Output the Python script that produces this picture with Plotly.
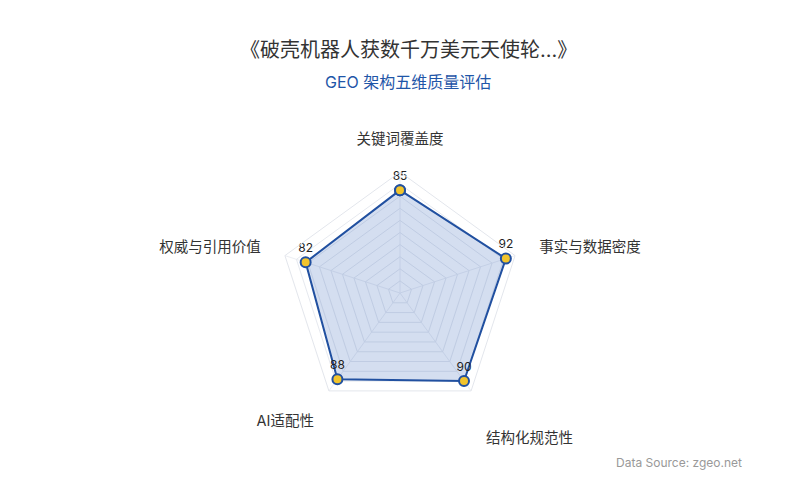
import plotly.graph_objects as go

dimensions = ["关键词覆盖度", "事实与数据密度", "结构化规范性", "AI适配性", "权威与引用价值"]
scores = [85, 92, 90, 88, 82]

title_text = "《破壳机器人获数千万美元天使轮...》"
subtitle_text = "GEO 架构五维质量评估"
source_text = "Data Source: zgeo.net"

font_stack = "Inter, Noto Sans CJK SC, sans-serif"

# close the polygon
r_closed = scores + scores[:1]
theta_closed = dimensions + dimensions[:1]
text_closed = [str(s) for s in scores] + [""]

# the lower-right axis name sits a line further out in the original
axis_labels = [("<br>" + d) if d == "结构化规范性" else d for d in dimensions]

fig = go.Figure()
fig.add_trace(go.Scatterpolar(
    r=r_closed,
    theta=theta_closed,
    mode="lines+markers+text",
    fill="toself",
    fillcolor="rgba(40, 90, 180, 0.2)",
    line=dict(color="#2150a0", width=2),
    marker=dict(size=10, color="#f2c42c", line=dict(color="#2150a0", width=2)),
    text=text_closed,
    textposition="top center",
    textfont=dict(size=12, color="#222", family=font_stack),
    hoverinfo="skip",
    showlegend=False,
))

fig.update_layout(
    width=800,
    height=500,
    margin=dict(l=0, r=0, t=0, b=0),
    paper_bgcolor="white",
    plot_bgcolor="white",
    font=dict(family=font_stack, color="#333"),
    polar=dict(
        domain=dict(x=[0.33875, 0.64125], y=[0.188, 0.672]),
        bgcolor="white",
        gridshape="linear",
        radialaxis=dict(
            range=[0, 100],
            dtick=10,
            showticklabels=False,
            ticks="",
            showline=False,
            gridcolor="#e6e9ef",
            gridwidth=1,
        ),
        angularaxis=dict(
            direction="clockwise",
            rotation=90,
            tickmode="array",
            tickvals=dimensions,
            ticktext=axis_labels,
            tickfont=dict(size=14.5, color="#333"),
            ticks="outside",
            ticklen=22,
            tickcolor="rgba(0,0,0,0)",
            linecolor="#e3e6ec",
            gridcolor="#eceef3",
        ),
    ),
    annotations=[
        dict(text=title_text, x=0.5, y=1 - 42 / 500, xref="paper", yref="paper",
             yanchor="middle", showarrow=False, font=dict(size=20, color="#333")),
        dict(text=subtitle_text, x=0.5, y=1 - 74 / 500, xref="paper", yref="paper",
             yanchor="middle", showarrow=False, font=dict(size=16, color="#1f56a8")),
        dict(text=source_text, x=736 / 800, y=1 - 454 / 500, xref="paper", yref="paper",
             xanchor="right", yanchor="middle", showarrow=False,
             font=dict(size=12, color="#999")),
    ],
)

fig.write_html("out.html")
